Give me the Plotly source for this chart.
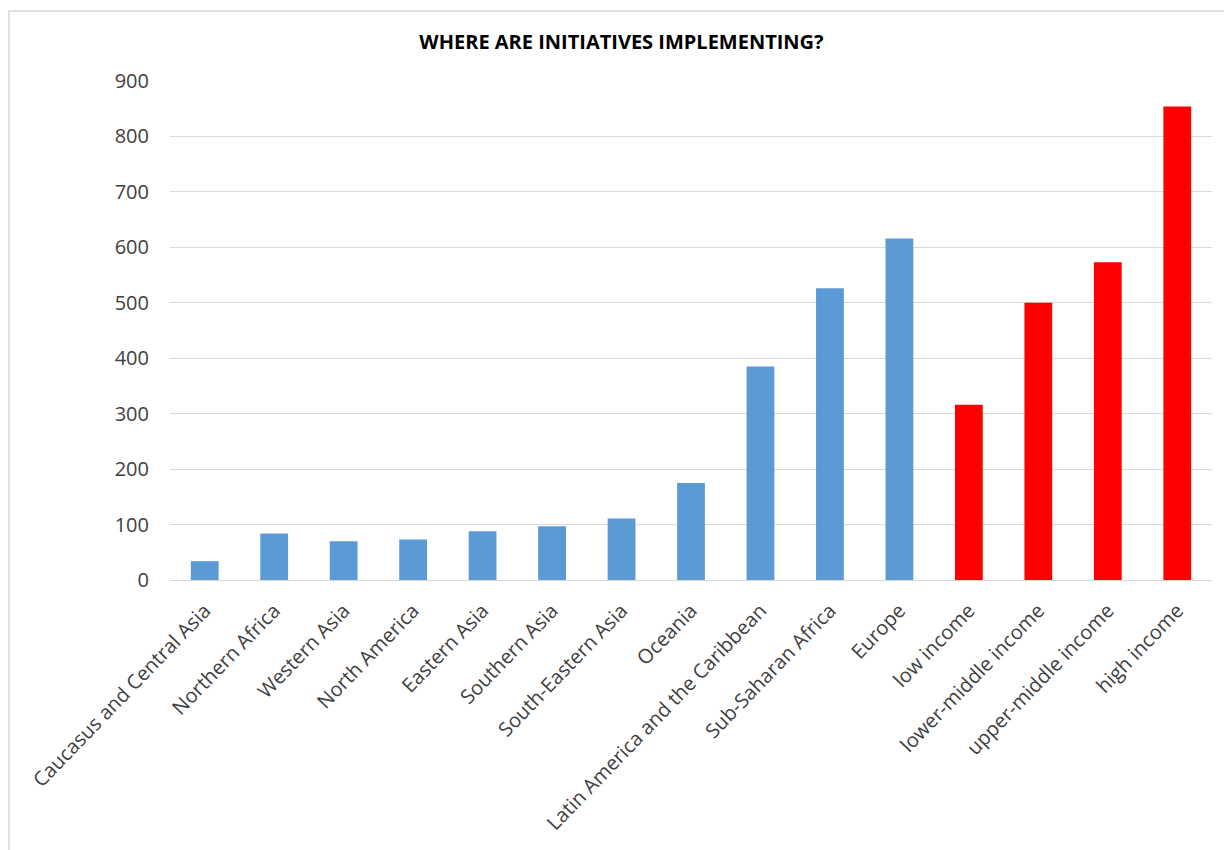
import plotly.graph_objects as go

regions = ["Caucasus and Central Asia", "Northern Africa", "Western Asia", "North America",
           "Eastern Asia", "Southern Asia", "South-Eastern Asia", "Oceania",
           "Latin America and the Caribbean", "Sub-Saharan Africa", "Europe"]
region_values = [34, 84, 70, 73, 88, 97, 111, 175, 385, 526, 616]

income_groups = ["low income", "lower-middle income", "upper-middle income", "high income"]
income_values = [316, 500, 573, 854]

y_ticks = [0, 100, 200, 300, 400, 500, 600, 700, 800, 900]

W, H = 1224, 850
L, R, T, B = 170, 12, 81, 270
pw, ph = W - L - R, H - T - B

fig = go.Figure()
fig.add_trace(go.Bar(x=regions, y=region_values, marker=dict(color="#5B9BD5", line=dict(width=0)),
                     showlegend=False))
fig.add_trace(go.Bar(x=income_groups, y=income_values, marker=dict(color="#FF0000", line=dict(width=0)),
                     showlegend=False))

# outer chart frame (cropped at right/bottom)
fig.add_shape(type="rect", xref="paper", yref="paper",
              x0=(9 - L) / pw, x1=(W + 5 - L) / pw,
              y0=-(B + 10) / ph, y1=(H - 11 - B) / ph,
              line=dict(color="#D9D9D9", width=1.5), fillcolor="rgba(0,0,0,0)", layer="below")

fig.update_layout(
    width=W, height=H,
    margin=dict(l=L, r=R, t=T, b=B, pad=0, autoexpand=False),
    paper_bgcolor="white", plot_bgcolor="white",
    barmode="overlay", bargap=0.6,
    title=dict(text="<b>WHERE ARE INITIATIVES IMPLEMENTING?</b>", x=(413 + 830) / 2 / W, xanchor="center",
               y=1 - 42 / H, yanchor="middle",
               font=dict(family="Open Sans, sans-serif", size=20, color="#000000")),
    font=dict(family="Open Sans, Liberation Sans, sans-serif", color="#404040"),
    xaxis=dict(categoryorder="array", categoryarray=regions + income_groups,
               tickangle=-46, tickfont=dict(size=20, color="#404040"),
               showline=True, linecolor="#D9D9D9", linewidth=1, ticks="",
               showgrid=False, ticklabelstandoff=10, automargin=False),
    yaxis=dict(range=[0, 900], tickvals=y_ticks, ticktext=[str(v) for v in y_ticks],
               showgrid=True, gridcolor="#D9D9D9", gridwidth=1, zeroline=True,
               zerolinecolor="#D9D9D9", zerolinewidth=1, automargin=False,
               tickfont=dict(size=20, color="#404040"), ticks="", ticklabelstandoff=20),
)

fig.write_html("out.html")
